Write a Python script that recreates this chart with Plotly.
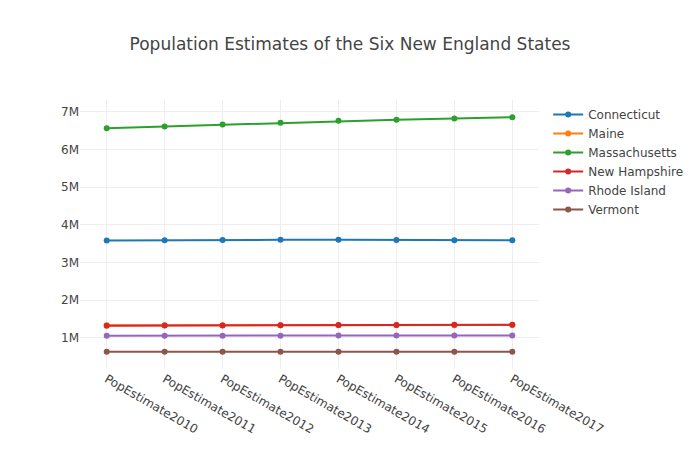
import plotly.graph_objects as go

years = ["PopEstimate2010", "PopEstimate2011", "PopEstimate2012", "PopEstimate2013",
         "PopEstimate2014", "PopEstimate2015", "PopEstimate2016", "PopEstimate2017"]

connecticut = [3579345, 3590537, 3594362, 3599341, 3600188, 3593862, 3587685, 3588184]
maine = [1327629, 1328284, 1327729, 1328009, 1330513, 1328262, 1331317, 1335907]
massachusetts = [6566307, 6613583, 6663005, 6713315, 6762596, 6794228, 6823721, 6859819]
new_hampshire = [1316762, 1320202, 1324232, 1326622, 1333341, 1336350, 1342307, 1342795]
rhode_island = [1053337, 1051302, 1050292, 1051151, 1055173, 1055607, 1057566, 1059639]
vermont = [625879, 627049, 626090, 626210, 625214, 625216, 623657, 623657]

series = [
    ("Connecticut", connecticut),
    ("Maine", maine),
    ("Massachusetts", massachusetts),
    ("New Hampshire", new_hampshire),
    ("Rhode Island", rhode_island),
    ("Vermont", vermont),
]
colors = ["#1f77b4", "#ff7f0e", "#2ca02c", "#d62728", "#9467bd", "#8c564b"]

fig = go.Figure()
for (name, vals), c in zip(series, colors):
    fig.add_trace(go.Scatter(x=years, y=vals, mode="lines+markers", name=name,
                             line=dict(color=c, width=2), marker=dict(color=c, size=6)))

fig.update_layout(
    title=dict(text="Population Estimates of the Six New England States", x=0.5),
    width=700, height=450,
    template="none",
    font=dict(family="DejaVu Sans, Verdana, sans-serif", color="#444"),
    margin=dict(l=80, r=161, t=100, b=81, autoexpand=False),
    legend=dict(x=1.02, y=1),
    xaxis=dict(tickangle=30, showgrid=True, gridcolor="#eee", zeroline=False, automargin=False),
    yaxis=dict(showgrid=True, gridcolor="#eee", zeroline=False, automargin=False),
)
fig.write_html("out.html",
               config={"displayModeBar": False},
               post_script="document.body.style.margin='0';document.body.style.overflow='hidden';")
